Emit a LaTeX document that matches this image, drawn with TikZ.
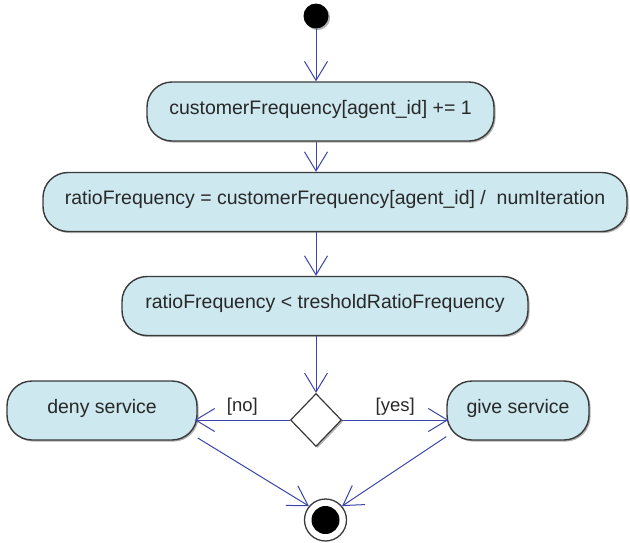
\documentclass[tikz,border=0pt]{standalone}
\usepackage{fontspec}
\setmainfont{Liberation Sans}
\usetikzlibrary{arrows.meta,shapes.geometric,shadows,calc}

\definecolor{actfill}{RGB}{205,232,239}
\definecolor{actline}{RGB}{58,58,58}
\definecolor{flow}{RGB}{58,68,172}
\definecolor{inktext}{RGB}{40,40,40}

\tikzset{
  softshadow/.style={drop shadow={shadow xshift=1.6pt, shadow yshift=-1.6pt, fill=black, opacity=0.3}},
  activity/.style={draw=actline, line width=1.4pt, fill=actfill, rounded corners=25pt,
    inner sep=0pt, minimum height=59pt, text=inktext,
    font=\fontsize{19.5}{23}\selectfont, text height=13pt, text depth=8pt, softshadow},
  decision/.style={diamond, draw=actline, line width=1.2pt, fill=white, inner sep=0pt,
    minimum width=51pt, minimum height=53pt, softshadow},
  initial/.style={circle, fill=black, inner sep=0pt, minimum size=25pt, softshadow},
  finalring/.style={circle, draw=actline, line width=1.3pt, fill=white, inner sep=0pt, minimum size=42pt},
  finaldot/.style={circle, fill=black, inner sep=0pt, minimum size=28pt},
  flowline/.style={draw=flow, line width=1pt, -{Straight Barb[length=19pt,width=23pt]}},
  guard/.style={text=inktext, font=\fontsize{18.5}{22}\selectfont, inner sep=1pt}
}

\begin{document}
\begin{tikzpicture}[x=1pt, y=-1pt]
  \useasboundingbox (0,0) rectangle (630,542);

  % nodes
  \node[initial] (start) at (316,16) {};
  \node[activity, minimum width=347pt] (inc) at (320.5,111.5) {customerFrequency[agent\_id] += 1};
  \node[activity, minimum width=584pt] (ratio) at (335,202) {ratioFrequency = customerFrequency[agent\_id] /\ \ numIteration};
  \node[activity, minimum width=406pt] (test) at (325,306) {ratioFrequency < tresholdRatioFrequency};
  \node[decision] (dec) at (316,420) {};
  \node[activity, minimum width=190pt] (deny) at (102,410.5) {deny service};
  \node[activity, minimum width=142pt] (give) at (518,410.5) {give service};
  \node[finalring] (end) at (325.5,520) {};
  \node[finaldot] (enddot) at (end.center) {};

  % control flow
  \draw[flowline] (start) -- (start |- inc.north);
  \draw[flowline] (inc.south -| start) -- (ratio.north -| start);
  \draw[flowline] (ratio.south -| start) -- (test.north -| start);
  \draw[flowline] (test.south -| start) -- (dec.north);
  \draw[flowline] (dec.west) -- node[guard, above=3pt] {[no]} ([xshift=-3pt]deny.east |- dec.west);
  \draw[flowline] (dec.east) -- node[guard, above=3pt] {[yes]} ([xshift=2pt]give.west |- dec.east);
  \draw[flowline] (deny.-16) -- (end.140);
  \draw[flowline] (give.200) -- (end.40);
\end{tikzpicture}
\end{document}
